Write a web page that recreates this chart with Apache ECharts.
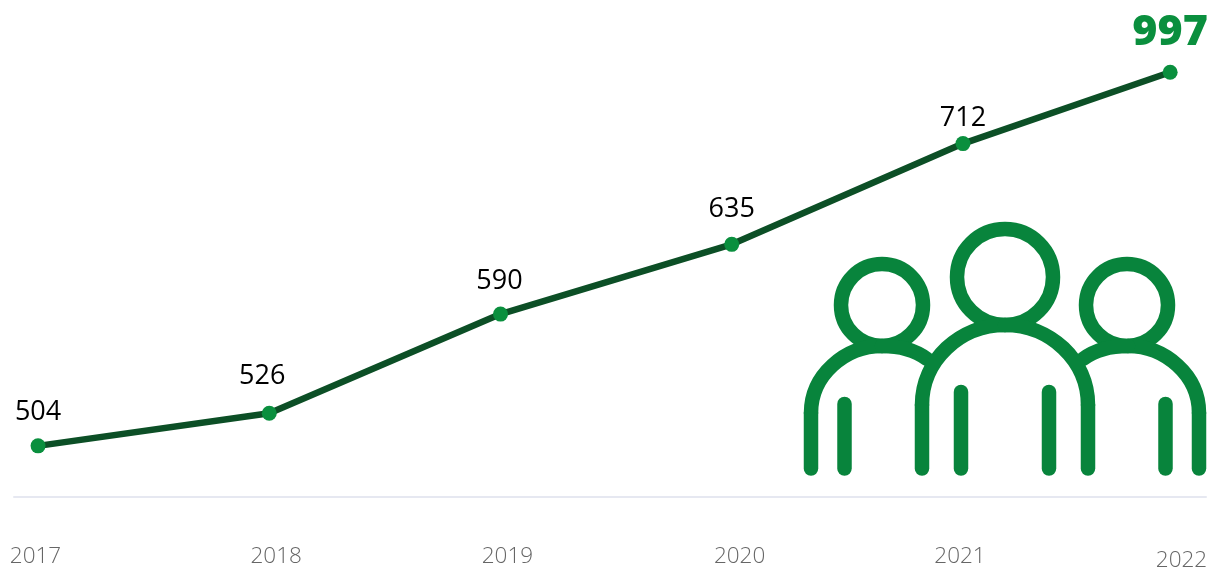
<!DOCTYPE html>
<html><head><meta charset="utf-8">
<script src="https://cdn.jsdelivr.net/npm/echarts@6/dist/echarts.min.js"></script>
<style>html,body{margin:0;padding:0;background:#fff}#c{width:1212px;height:570px}</style>
</head><body><div id="c"></div>
<script>
// Printed values
const years = ['2017','2018','2019','2020','2021','2022'];
const printedValues = [504,526,590,635,712,997];
// Heights and horizontal places as drawn in the picture (the source line is not to scale)
const drawnHeights = [504,525,589,634,699,745];
const drawnYears = [2017,2018,2019,2020,2021,2021.896];
const tickPlaces = [2016.989,2018.03,2019.03,2020.034,2020.987,2021.945];
const labelShiftX = [0,-7,-1,0,0,0];
const labelShiftY = [-8,-11,-7,-9,1,-6];

const chart = echarts.init(document.getElementById('c'));
const font = '"Open Sans","Noto Sans",sans-serif';
const iconColor = '#08843c';
const stroke = {stroke:iconColor,lineWidth:14.5,lineCap:'round',lineJoin:'round',fill:'none'};
const mk = (type,shape) => ({type,shape,style:stroke,silent:true,z:5});
const line = (x1,y1,x2,y2) => mk('line',{x1,y1,x2,y2});
const curve = (x1,y1,cpx1,cpy1,cpx2,cpy2,x2,y2) => mk('bezierCurve',{x1,y1,cpx1,cpy1,cpx2,cpy2,x2,y2});
const icon = [
  mk('circle',{cx:1005,cy:277,r:48}), mk('circle',{cx:882,cy:305,r:41}), mk('circle',{cx:1127,cy:305,r:41}),
  // left figure
  line(811,468.5,811,413), curve(811,413,811,375,845,346,882,346), curve(882,346,900,346,915,350,927,359),
  // right figure
  line(1199,468.5,1199,413), curve(1199,413,1199,375,1165,346,1128,346), curve(1128,346,1110,346,1095,350,1083,359),
  // centre figure
  line(922,468.5,922,405), curve(922,405,922,360,960,325,1005,325), curve(1005,325,1050,325,1088,360,1088,405), line(1088,405,1088,468.5),
  // arms
  line(844.5,404,844.5,468.5), line(1165.5,404,1165.5,468.5), line(961,392,961,468.5), line(1049,392,1049,468.5)
];
chart.setOption({
  animation:false,
  backgroundColor:'#fff',
  grid:{left:14,right:6,top:1,height:496,containLabel:false,outerBoundsMode:'none'},
  xAxis:{type:'value',min:2016.896,max:2022.051,
    splitLine:{show:false},
    axisLine:{show:true,onZero:false,lineStyle:{color:'#e6e8f1',width:2}},
    axisTick:{show:false},
    axisLabel:{
      customValues:tickPlaces,margin:48,fontFamily:font,fontSize:22.5,fontWeight:300,color:'#666',
      hideOverlap:false,showMinLabel:true,showMaxLabel:true,
      formatter:(v)=>{const i=tickPlaces.indexOf(v);
        return i===5?'{low|'+years[i]+'}':years[i];},
      rich:{low:{padding:[4,0,0,0],fontFamily:font,fontSize:22.5,fontWeight:300,color:'#666'}}
    }},
  yAxis:{type:'value',min:471,max:791,show:false},
  series:[{
    type:'line',
    data:drawnYears.map((x,i)=>{
      const last=i===5;
      return {value:[x,drawnHeights[i]],
        label:{show:true,position:'top',offset:[labelShiftX[i],labelShiftY[i]],
          formatter:String(printedValues[i]),
          fontFamily:font,fontSize:last?43:27,fontWeight:last?800:400,
          color:last?'#0a8f3e':'#000'}};
    }),
    symbol:'circle',symbolSize:15,
    itemStyle:{color:'#0a8f3e'},
    lineStyle:{color:'#0c4f26',width:6.5},
    clip:false
  }],
  graphic:{elements:icon}
});
</script></body></html>
